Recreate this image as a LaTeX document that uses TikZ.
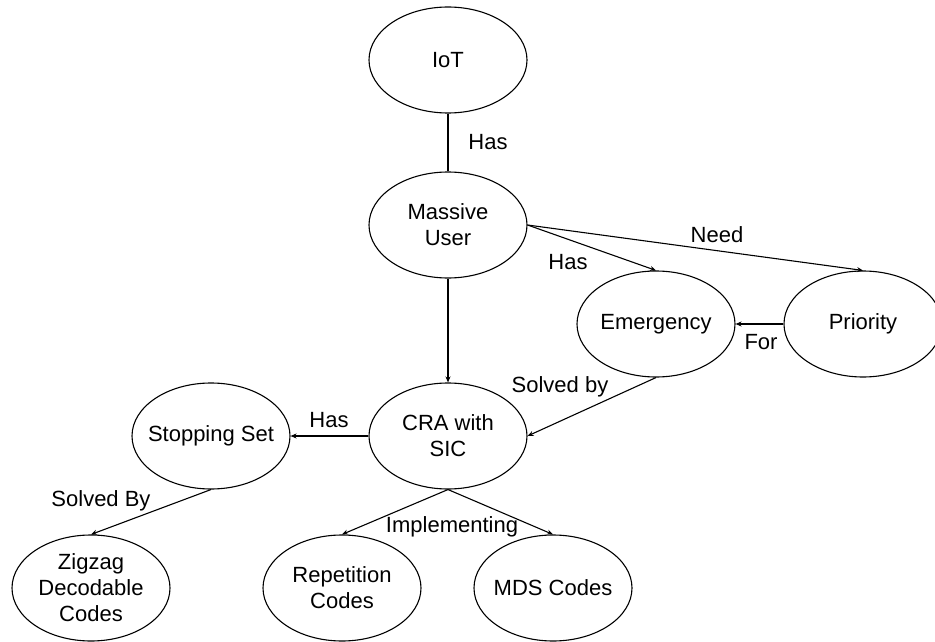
\documentclass[tikz,border=0pt]{standalone}
\usepackage{fontspec}
\setmainfont{Liberation Sans}
\usetikzlibrary{shapes.geometric,arrows.meta}
\begin{document}
\begin{tikzpicture}[x=1pt,y=-1pt,
  every node/.style={font=\fontsize{22}{26}\selectfont},
  el/.style={draw, ellipse, line width=1.1pt, minimum width=158pt, minimum height=106pt, inner sep=0pt},
  lbl/.style={align=center, inner sep=0pt},
  conn/.style={line width=1.1pt},
  arr/.style={conn, -{Stealth[length=6pt,width=5pt]}}]
\useasboundingbox (0,0) rectangle (935,642);
\node[el, label={[lbl]center:IoT}] (iot) at (448,60) {};
\node[el, label={[lbl]center:{Massive\\User}}] (mu) at (448,225) {};
\node[el, label={[lbl]center:Emergency}] (em) at (656,324) {};
\node[el, label={[lbl]center:Priority}] (pr) at (863,324) {};
\node[el, label={[lbl]center:{CRA with\\SIC}}] (cra) at (448,436) {};
\node[el, label={[lbl]center:Stopping Set}] (ss) at (211,436) {};
\node[el, label={[lbl]center:{Zigzag\\Decodable\\Codes}}] (zz) at (91,588) {};
\node[el, label={[lbl]center:{Repetition\\Codes}}] (rep) at (342,588) {};
\node[el, label={[lbl]center:MDS Codes}] (mds) at (553,588) {};

\draw[conn] (iot.south) -- (mu.north);
\draw[arr] (mu.east) -- (em.north);
\draw[arr] (mu.east) -- (pr.north);
\draw[arr] (pr.west) -- (em.east);
\draw[arr] (mu.south) -- (cra.north);
\draw[arr] (em.south) -- (cra.east);
\draw[arr] (cra.west) -- (ss.east);
\draw[arr] (ss.south) -- (zz.north);
\draw[arr] (cra.south) -- (rep.north);
\draw[arr] (cra.south) -- (mds.north);

\node[lbl] (l1) at (488,142) {Has};
\node[lbl] (l2) at (568,262) {Has};
\node[lbl] (l3) at (717,235) {Need};
\node[lbl] (l4) at (761,342) {For};
\node[lbl] (l5) at (560,387) {Solved by};
\node[lbl] (l6) at (329,420) {Has};
\node[lbl] (l7) at (101,501) {Solved By};
\node[lbl] (l8) at (452,527) {Implementing};
\end{tikzpicture}
\end{document}
